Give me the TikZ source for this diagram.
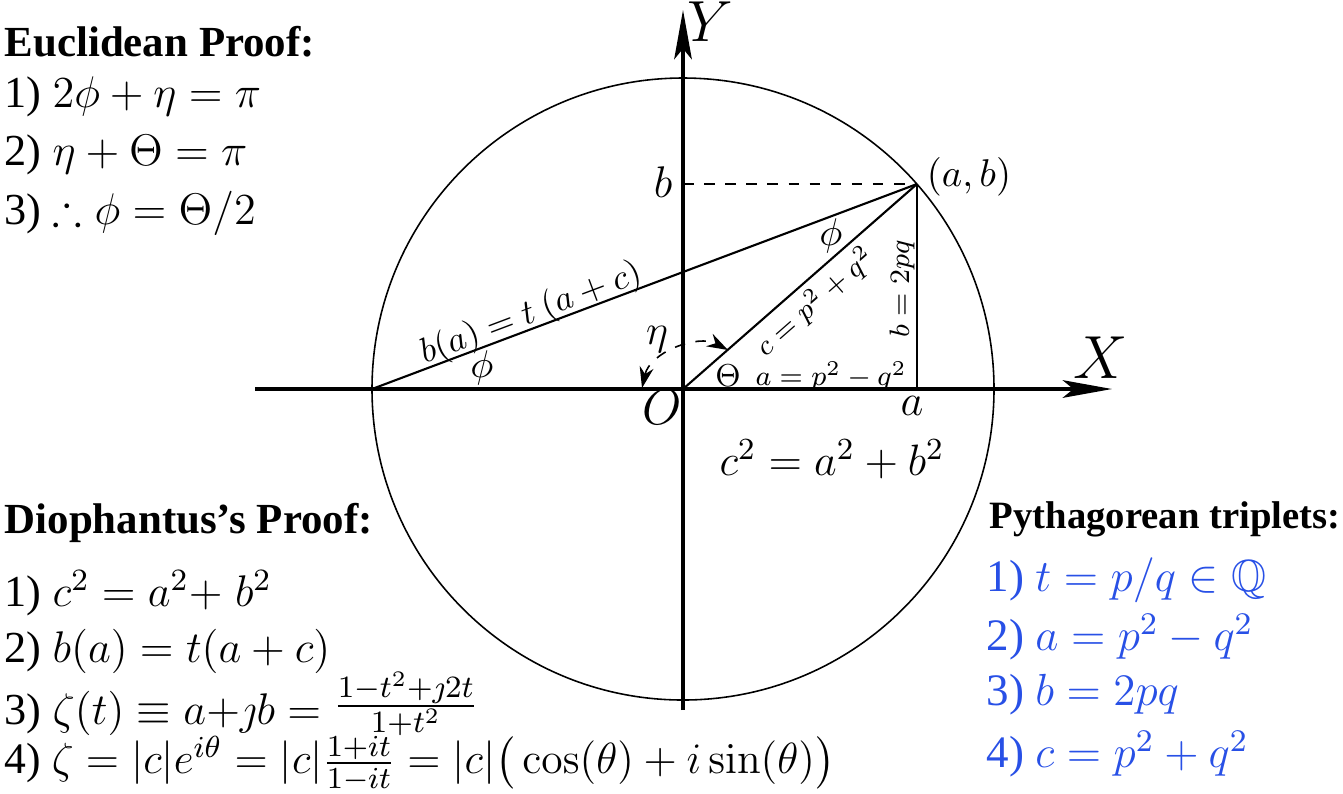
\RequirePackage{fix-cm}
\documentclass[tikz,border=0pt]{standalone}
\usepackage{amsmath,amssymb}
\usepackage[no-math]{fontspec}
\setmainfont{Liberation Serif}
\usetikzlibrary{arrows.meta}
\definecolor{tripblue}{RGB}{40,80,230}
\begin{document}
\begin{tikzpicture}[x=0.01cm,y=-0.01cm,
  axisline/.style={line width=1.1pt,-{Stealth[length=14pt,width=5pt,inset=3pt]}},
  geoline/.style={line width=0.6pt},
  bigtxt/.style={font=\fontsize{12.6}{15}\selectfont,inner sep=0pt},
  bluetxt/.style={font=\fontsize{12.8}{15}\selectfont,inner sep=0pt,text=tripblue,anchor=west},
  headtxt/.style={font=\fontsize{12.2}{14}\selectfont\bfseries,inner sep=0pt},
  smalltxt/.style={font=\fontsize{8}{10}\selectfont,inner sep=0pt},
  midtxt/.style={font=\fontsize{10}{12}\selectfont,inner sep=0pt}]
\useasboundingbox (0,0) rectangle (1343,793);
% points
\coordinate (O) at (683,389);
\coordinate (P) at (917,184);
\coordinate (L) at (372,389);
\coordinate (A) at (917,389);
\coordinate (B) at (683,184);
\coordinate (Xs) at (255,389);
\coordinate (Xe) at (1112,389);
\coordinate (Ys) at (683,710);
\coordinate (Ye) at (683,10);
\coordinate (Ea) at (642,388);
\coordinate (Eb) at (728,350);
% circle
\draw[line width=0.45pt] (O) circle (311);
% axes
\draw[axisline] (Xs) -- (Xe);
\draw[axisline] (Ys) -- (Ye);
% triangle lines
\draw[geoline] (L) -- (P);
\draw[geoline] (O) -- (P);
\draw[geoline] (P) -- (A);
\draw[line width=0.45pt,dashed] (B) -- (P);
% eta arc
\draw[line width=0.45pt,dashed,{Stealth[length=6pt,width=4pt]}-{Stealth[length=6pt,width=4pt]}] (Ea) .. controls (650,352) and (698,334) .. (Eb);
% axis labels
\node[font=\fontsize{16.5}{19}\selectfont,inner sep=0pt] (ylab) at (710,22) {$Y$};
\node[font=\fontsize{17.3}{20}\selectfont,inner sep=0pt] (xlab) at (1101,358) {$X$};
\node[font=\fontsize{14.4}{17}\selectfont,inner sep=0pt] (olab) at (662,407) {$O$};
\node[bigtxt] (blab) at (663,182) {$b$};
\node[bigtxt] (alab) at (912,406) {$a$};
\node[font=\fontsize{11}{13}\selectfont,inner sep=0pt] (ablab) at (969,177) {$(a,b)$};
\node[font=\fontsize{12.5}{15}\selectfont,inner sep=0pt] (pyth) at (832,459) {$c^2=a^2+b^2$};
% in-figure labels
\node[midtxt,rotate=20.6] (bline) at (531,314) {$b(a) = t\ (a+c)$};
\node[font=\fontsize{11}{13}\selectfont,inner sep=0pt] (phi1) at (482,368) {$\phi$};
\node[font=\fontsize{11}{13}\selectfont,inner sep=0pt] (phi2) at (831,236) {$\phi$};
\node[font=\fontsize{12}{14}\selectfont,inner sep=0pt] (etal) at (657,340) {$\eta$};
\node[font=\fontsize{9}{11}\selectfont,inner sep=0pt] (thl) at (728,376) {$\Theta$};
\node[smalltxt,rotate=41.2] (cl) at (815,302) {$c = p^2+q^2$};
\node[smalltxt,rotate=90] (bl) at (902,289) {$b = 2pq$};
\node[smalltxt] (al) at (831,376) {$a = p^2 - q^2$};
% Euclidean proof
\node[headtxt,anchor=west] (eh) at (4,42) {Euclidean Proof:};
\node[bigtxt,anchor=west] (e1) at (4,97) {1) $2\phi+\eta=\pi$};
\node[bigtxt,anchor=west] (e2) at (4,155) {2) $\eta+\Theta=\pi$};
\node[bigtxt,anchor=west] (e3) at (4,213) {3) $\therefore\phi=\Theta/2$};
% Diophantus
\node[headtxt,anchor=west] (dh) at (4,523) {Diophantus's Proof:};
\node[bigtxt,anchor=west] (d1) at (4,593) {1) $c^2=a^2{+}\;b^2$};
\node[bigtxt,anchor=west] (d2) at (4,651) {2) $b(a)=t(a+c)$};
\node[bigtxt,anchor=west] (d3) at (4,704) {3) $\zeta(t)\equiv a{+}\jmath b=\raisebox{2pt}{$\frac{1-t^2+\jmath 2t}{1+t^2}$}$};
\node[bigtxt,anchor=west,font=\fontsize{12.4}{15}\selectfont] (d4) at (4,764) {4) $\zeta=|c|e^{i\theta}=|c|\frac{1+it}{1-it}=|c|\big(\cos(\theta)+i\sin(\theta)\big)$};
% Pythagorean triplets
\node[font=\fontsize{11}{13}\selectfont\bfseries,inner sep=0pt,anchor=east] (ph) at (1341,519) {Pythagorean triplets:};
\node[bluetxt] (p1) at (986,580) {1) $t=p/q\in\mathbb{Q}$};
\node[bluetxt] (p2) at (986,637) {2) $a=p^2-q^2$};
\node[bluetxt] (p3) at (986,695) {3) $b=2pq$};
\node[bluetxt] (p4) at (986,754) {4) $c=p^2+q^2$};
\end{tikzpicture}
\end{document}
